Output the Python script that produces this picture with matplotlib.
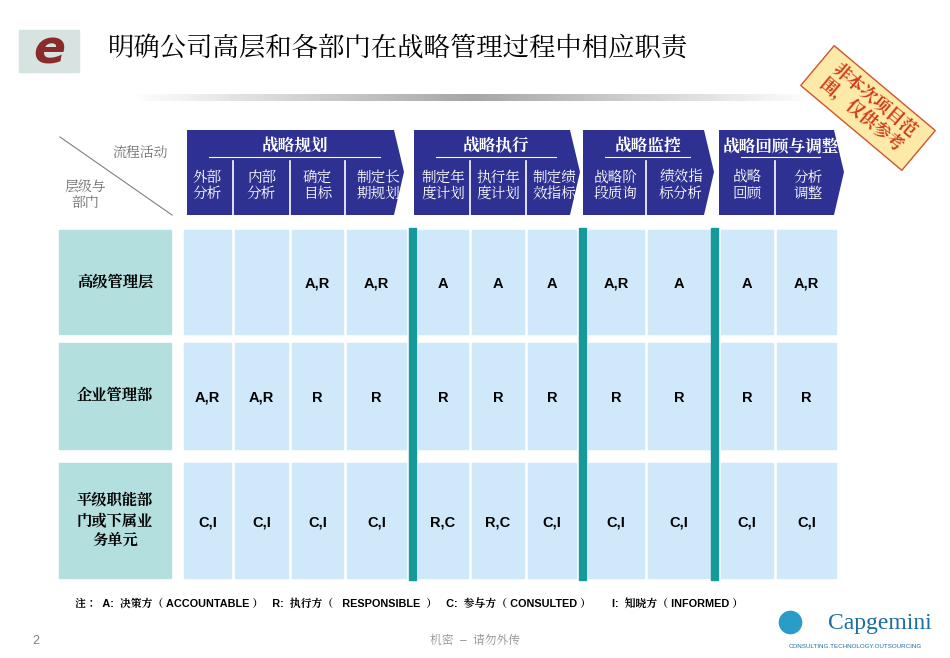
import matplotlib
matplotlib.use("Agg")
import matplotlib.pyplot as plt
from matplotlib.patches import Polygon, Rectangle
from matplotlib import font_manager as fm
import numpy as np

cjk = [f for f in fm.fontManager.ttflist if "CJK" in f.name or "CJK" in f.fname]
cjk_sc = [f for f in cjk if "SC" in f.name] or cjk
cjk_name = cjk_sc[0].name if cjk_sc else 'Noto Sans CJK SC'
plt.rcParams['font.family'] = ['Liberation Sans', cjk_name]

title = "明确公司高层和各部门在战略管理过程中相应职责"
groups = ["战略规划", "战略执行", "战略监控", "战略回顾与调整"]
group_sizes = [4, 3, 2, 2]
activities = ["外部\n分析", "内部\n分析", "确定\n目标", "制定长\n期规划",
              "制定年\n度计划", "执行年\n度计划", "制定绩\n效指标",
              "战略阶\n段质询", "绩效指\n标分析", "战略\n回顾", "分析\n调整"]
levels = ["高级管理层", "企业管理部", "平级职能部\n门或下属业\n务单元"]
matrix = [
    ["", "", "A,R", "A,R", "A", "A", "A", "A,R", "A", "A", "A,R"],
    ["A,R", "A,R", "R", "R", "R", "R", "R", "R", "R", "R", "R"],
    ["C,I", "C,I", "C,I", "C,I", "R,C", "R,C", "C,I", "C,I", "C,I", "C,I", "C,I"],
]
note = "注：  A:  决策方（ ACCOUNTABLE ）   R:  执行方（   RESPONSIBLE  ）   C:  参与方（ CONSULTED ）       I:  知晓方（ INFORMED ）"

col_x = [(184, 231), (235, 288), (292, 343), (347, 406), (418, 468), (472, 524),
         (528, 576), (588, 644), (648, 710), (721, 773), (777, 836)]
row_y = [(230, 334), (343, 449), (463, 578)]
group_x = [(187, 394), (414, 570), (583, 704), (719, 834)]
teal_x = [(409, 416), (579, 586), (711, 718)]

NAVY = "#2e3192"
CELL = "#cfe9fb"
LEFT = "#b4dfdf"
TEAL = "#16999b"

fig = plt.figure(figsize=(9.5, 6.58), dpi=100)
ax = fig.add_axes([0, 0, 1, 1])
ax.set_xlim(0, 950); ax.set_ylim(658, 0); ax.axis("off")

ax.add_patch(Rectangle((19, 30), 60, 42, color="#d6e3e0"))
ax.text(49, 51, "e", color="#8b2a2a", fontsize=34, fontweight="bold", ha="center", va="center",
        fontstyle="italic", family="DejaVu Sans")
ax.text(108, 48, title, fontsize=19, ha="left", va="center", color="black")
grad = np.concatenate([np.linspace(1, 0.65, 50), np.linspace(0.65, 1, 50)])
ax.imshow(np.tile(grad, (2, 1)), cmap="gray", vmin=0, vmax=1, extent=(125, 820, 94, 101), aspect="auto")
ax.set_xlim(0, 950); ax.set_ylim(658, 0)

cx, cy = 868, 108
ang = np.deg2rad(-40)
pts = []
for dx, dy in [(-66, -26), (66, -26), (66, 26), (-66, 26)]:
    pts.append((cx + dx*np.cos(ang) - dy*np.sin(ang), cy - (dx*np.sin(ang) + dy*np.cos(ang))))
ax.add_patch(Polygon(pts, closed=True, facecolor="#fde9a8", edgecolor="#d0552a", lw=1))
ax.text(cx, cy, "非本次项目范\n围，仅供参考", rotation=-40, fontsize=12.5, color="#d03a1a", fontweight="bold",
        ha="center", va="center", linespacing=1.1, rotation_mode="anchor")

ax.plot([60, 172], [137, 215], color="#808080", lw=0.8)
ax.text(140, 154, "流程活动", fontsize=10, color="#707070", ha="center", va="center")
ax.text(85, 195, "层级与\n部门", fontsize=10, color="#707070", ha="center", va="center", linespacing=1.2)

ci = 0
for g, (gx0, gx1), n in zip(groups, group_x, group_sizes):
    ax.add_patch(Polygon([(gx0, 130), (gx1, 130), (gx1 + 10, 172), (gx1, 215), (gx0, 215)],
                         closed=True, facecolor=NAVY, edgecolor="none"))
    ax.text((gx0 + gx1) / 2 + 4, 146, g, color="white", fontsize=12, fontweight="bold", ha="center", va="center")
    ax.plot([gx0 + 22, gx1 - 14], [157, 157], color="white", lw=0.8)
    for k in range(n):
        x0, x1 = col_x[ci]
        if k > 0:
            ax.plot([x0 - 2, x0 - 2], [161, 215], color="white", lw=1.2)
        ax.text((x0 + x1) / 2 + (2 if k == n - 1 else 0), 186, activities[ci], color="white",
                fontsize=10.5, ha="center", va="center", linespacing=1.2)
        ci += 1

for r, (y0, y1) in enumerate(row_y):
    ax.add_patch(Rectangle((59, y0), 112, y1 - y0, color=LEFT))
    ax.text(115, (y0 + y1) / 2, levels[r], fontsize=11, fontweight="bold", ha="center", va="center", linespacing=1.4)
    for c, (x0, x1) in enumerate(col_x):
        ax.add_patch(Rectangle((x0, y0), x1 - x0, y1 - y0, color=CELL))
        ax.text((x0 + x1) / 2, (y0 + y1) / 2 + 2, matrix[r][c], fontsize=10.5, fontweight="bold",
                ha="center", va="center")
for x0, x1 in teal_x:
    ax.add_patch(Rectangle((x0, 228), x1 - x0, 352, color=TEAL))

ax.text(75, 604, note, fontsize=7.8, fontweight="bold", ha="left", va="center")
ax.text(36, 641, "2", fontsize=9, color="#808080", ha="center", va="center")
ax.text(475, 641, "机密  –  请勿外传", fontsize=8.5, color="#909090", ha="center", va="center")
ax.text(880, 624, "Capgemini", fontsize=17, color="#1a6fa0", ha="center", va="center", family="Liberation Serif")
ax.text(855, 646, "CONSULTING.TECHNOLOGY.OUTSOURCING", fontsize=4.5, color="#1a6fa0", ha="center", va="center")
ax.plot([790], [622], marker="o", markersize=16, color="#2a9cc8")

fig.savefig("out.png", dpi=100)
